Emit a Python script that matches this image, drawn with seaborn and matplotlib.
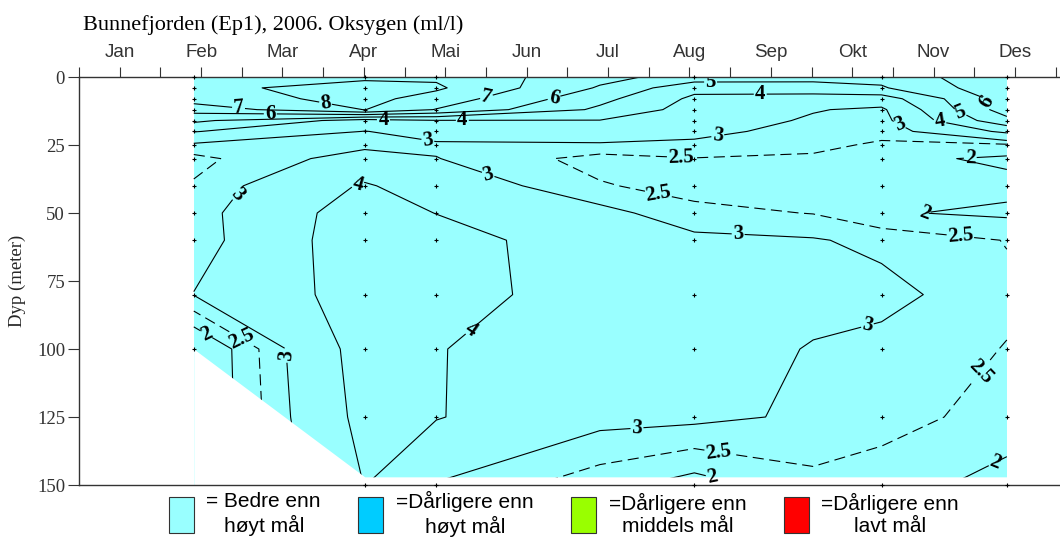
import matplotlib
matplotlib.use("Agg")
import matplotlib.pyplot as plt
import numpy as np
import pandas as pd
import seaborn as sns
from matplotlib.patches import Patch

MONTHS = ["Jan", "Feb", "Mar", "Apr", "Mai", "Jun", "Jul", "Aug", "Sep", "Okt", "Nov", "Des"]
DEPTHS = [0, 4, 8, 12, 16, 20, 25, 30, 40, 50, 60, 80, 100, 125, 150]
DEPTH_TICKS = [0, 25, 50, 75, 100, 125, 150]

# cruises, as months after 1 January
CRUISE_MONTH = [0.91, 3.01, 3.89, 7.06, 9.36, 10.90]
CRUISE_DEEPEST = [100, 150, 150, 150, 150, 150]
CRUISE_BOTTOM = [100, 147, 147, 147, 147, 147]

# oxygen (ml/l) per cruise, one value per entry in DEPTHS
O2_FEB = [7.6, 7.8, 7.5, 6.4, 5.2, 4.05, 2.85, 2.35, 2.55, 2.7, 2.65, 3.02, 1.3, 1.3, 1.3]
O2_APR = [7.85, 8.3, 8.3, 8.02, 3.6, 2.98, 2.85, 3.3, 4.1, 4.5, 4.6, 4.4, 4.45, 4.3, 4.02]
O2_MAI = [7.85, 8.15, 7.6, 6.95, 3.95, 3.3, 2.9, 3.02, 3.5, 3.98, 4.45, 4.35, 4.03, 4.05, 2.95]
O2_AUG = [5.6, 4.3, 3.8, 3.6, 3.45, 3.2, 2.85, 2.48, 2.3, 2.65, 3.15, 3.4, 3.4, 3.15, 1.75]
O2_OKT = [5.3, 4.9, 3.5, 2.85, 2.75, 2.6, 2.45, 2.15, 2.05, 2.05, 2.85, 3.2, 2.8, 2.65, 2.3]
O2_DES = [6.8, 6.7, 6.5, 6.5, 5.7, 4.2, 2.4, 1.9, 2.15, 1.9, 2.48, 2.6, 2.48, 2.35, 1.75]

# profiles (mid June, mid September)
READ_MONTH = [5.9, 8.52]
O2_JUN = [6.3, 5.9, 5.3, 4.8, 3.97, 3.5, 2.9, 2.3, 2.55, 3.2, 3.4, 3.6, 3.6, 3.2, 2.2]
O2_SEP = [5.4, 4.5, 3.6, 3.05, 2.9, 2.75, 2.58, 2.45, 2.3, 2.48, 3.05, 3.25, 2.95, 2.9, 2.35]

LEVELS = [2, 2.5, 3, 4, 5, 6, 7, 8]

# where the isoline numbers sit (month, depth)
LABEL_SPOTS = [
    (1.46, 11.4), (1.85, 14.0), (2.53, 9.6), (3.24, 15.8), (3.79, 22.1),
    (4.21, 15.5), (4.52, 9.6), (5.33, 6.6), (7.26, 2.6), (7.87, 5.9),
    (7.35, 22.1), (9.59, 16.9), (10.08, 15.8), (10.33, 12.9), (10.63, 9.6),
    (10.45, 29.1), (9.86, 41.2), (6.89, 30.5), (6.62, 42.7), (10.33, 58.9),
    (4.52, 36.8), (1.40, 41.6), (2.92, 38.6), (7.60, 56.7), (9.16, 86.9),
    (4.25, 89.4), (1.06, 95.0), (1.49, 96.8), (2.01, 102.3), (10.49, 105.3),
    (6.36, 132.1), (7.35, 138.0), (7.29, 145.0), (10.72, 139.1),
]

LEGEND_LABELS = ["= Bedre enn\nhøyt mål", "=Dårligere enn\nhøyt mål",
                 "=Dårligere enn\nmiddels mål", "=Dårligere enn\nlavt mål"]
LEGEND_COLORS = ["#99FFFF", "#00CCFF", "#99FF00", "#FF0000"]

SERIF = ["Liberation Serif", "DejaVu Serif"]
SANS = ["Liberation Sans", "DejaVu Sans"]

sns.set_theme(style="white")
plt.rcParams.update({
    "lines.dashed_pattern": (10, 5),
    "axes.edgecolor": "#333333",
    "xtick.color": "#333333",
    "ytick.color": "#333333",
    "text.color": "black",
})
plt.rcParams["font.family"] = SANS

fig = plt.figure(figsize=(10.6, 5.45), dpi=100)
ax = fig.add_axes([79 / 1060, 1 - 485 / 545, 981 / 1060, 408 / 545])

# merge cruise and read profiles into one grid, ordered in time
columns = sorted(
    zip(CRUISE_MONTH + READ_MONTH,
        [O2_FEB, O2_APR, O2_MAI, O2_AUG, O2_OKT, O2_DES, O2_JUN, O2_SEP]),
    key=lambda item: item[0],
)
grid_month = np.array([c[0] for c in columns])
grid_o2 = np.column_stack([c[1] for c in columns])

ax.contourf(grid_month, DEPTHS, grid_o2, levels=[0, 20], colors=["#99FFFF"], zorder=1)
styles = ["dashed" if lv == 2.5 else "solid" for lv in LEVELS]
cs = ax.contour(grid_month, DEPTHS, grid_o2, levels=LEVELS, colors="black",
                linewidths=0.8, linestyles=styles, zorder=2)
labels = ax.clabel(cs, manual=LABEL_SPOTS, inline=True, inline_spacing=2,
                   fmt="%g", fontsize=15)
for t in labels:
    t.set_fontfamily(SERIF)
    t.set_fontweight("bold")
    t.set_zorder(4)

# sea floor below the deepest samples
ax.fill_between(CRUISE_MONTH, CRUISE_BOTTOM, 150, color="white", lw=0, zorder=3)

# sampling points
points = pd.DataFrame(
    [(m, d) for m, deep in zip(CRUISE_MONTH, CRUISE_DEEPEST) for d in DEPTHS if d <= deep],
    columns=["month", "depth"],
)
sns.scatterplot(data=points, x="month", y="depth", marker="+", s=7, color="black",
                linewidth=0.8, ax=ax, zorder=6, clip_on=False, legend=False)

ax.set_xlim(-0.491, 11.553)
ax.set_ylim(150, 0)
ax.xaxis.tick_top()
ax.set_xticks(range(12))
ax.set_xticklabels(MONTHS)
ax.set_xticks(np.arange(-0.5, 11.6, 1.0), minor=True)
ax.tick_params(axis="x", which="both", direction="out", length=7.2, width=0.8,
               pad=4, labelsize=13.5, top=True, bottom=False)
ax.set_yticks(DEPTH_TICKS)
ax.tick_params(axis="y", direction="out", length=8, width=0.8, pad=2, labelsize=13.5, left=True)
for lbl in ax.get_yticklabels():
    lbl.set_fontfamily(SERIF)
ax.set_xlabel("")
ax.set_ylabel("Dyp (meter)", fontfamily=SERIF, fontsize=13.5, labelpad=8)
sns.despine(ax=ax, top=False, right=True, left=False, bottom=False)
for side in ["top", "left", "bottom"]:
    ax.spines[side].set_linewidth(1.0)
    ax.spines[side].set_zorder(5)
ax.grid(False)

fig.text(83 / 1060, 1 - 30 / 545, "Bunnefjorden (Ep1), 2006. Oksygen (ml/l)",
         fontfamily=SERIF, fontsize=16, va="baseline", ha="left")

handles = [Patch(facecolor=c, edgecolor="#333333", linewidth=0.8) for c in LEGEND_COLORS]
leg = fig.legend(handles, LEGEND_LABELS, loc="upper center", ncol=4,
                 bbox_to_anchor=(0.532, 1 - 481 / 545), frameon=False,
                 prop={"family": SANS, "size": 15}, handlelength=1.2, handleheight=2.3,
                 handletextpad=0.6, columnspacing=1.8, borderpad=0, labelspacing=0)
for t in leg.get_texts():
    t.set_multialignment("center")

fig.savefig("out.png", dpi=100)
